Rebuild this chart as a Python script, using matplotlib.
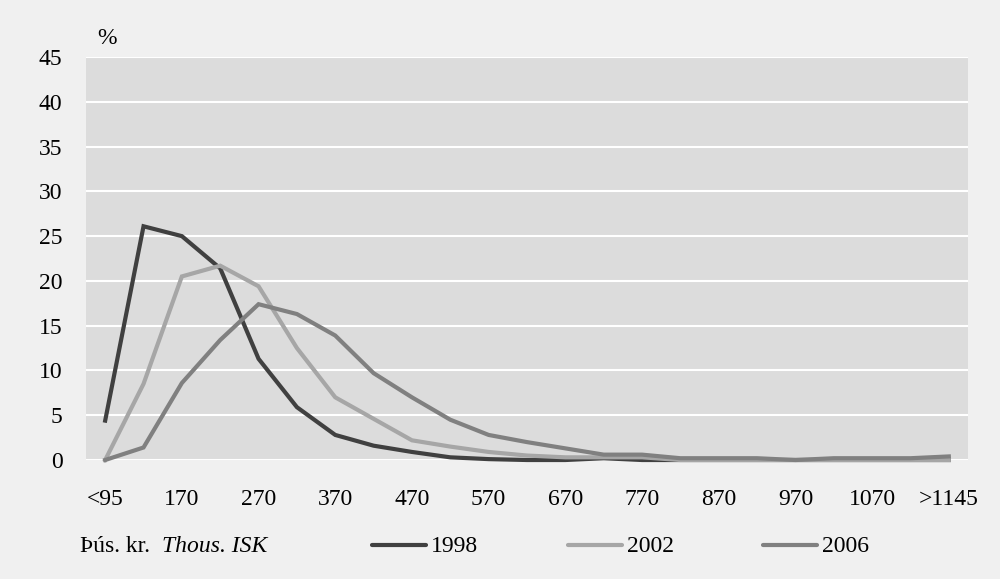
import matplotlib
matplotlib.use("Agg")
import matplotlib.pyplot as plt
from matplotlib.lines import Line2D

categories = ["<95", "120", "170", "220", "270", "320", "370", "420", "470", "520",
              "570", "620", "670", "720", "770", "820", "870", "920", "970", "1020",
              "1070", "1120", ">1145"]
y1998 = [4.4, 26.1, 25.0, 21.4, 11.3, 5.9, 2.8, 1.6, 0.9, 0.3, 0.1, 0.0, 0.0, 0.2,
         0.0, 0.0, 0.0, 0.0, 0.0, 0.0, 0.0, 0.0, 0.0]
y2002 = [0.0, 8.5, 20.5, 21.7, 19.4, 12.5, 7.0, 4.6, 2.2, 1.5, 0.9, 0.5, 0.3, 0.3,
         0.3, 0.0, 0.0, 0.0, 0.0, 0.0, 0.0, 0.0, 0.0]
y2006 = [0.0, 1.4, 8.6, 13.4, 17.4, 16.3, 13.9, 9.7, 7.0, 4.5, 2.8, 2.0, 1.3, 0.6,
         0.6, 0.2, 0.2, 0.2, 0.0, 0.2, 0.2, 0.2, 0.4]
series_names = ["1998", "2002", "2006"]
yticks = [0, 5, 10, 15, 20, 25, 30, 35, 40, 45]

colors = ["#404040", "#a6a6a6", "#808080"]
FONT = "Liberation Serif"
FS = 17

fig = plt.figure(figsize=(10, 5.79), dpi=100, facecolor="#f0f0f0")
ax = fig.add_axes([0.086, 0.2055, 0.882, 0.696])
ax.set_facecolor("#dcdcdc")

x = list(range(len(categories)))
for ys, c in zip([y1998, y2002, y2006], colors):
    ax.plot(x, ys, color=c, lw=3, solid_joinstyle="miter", zorder=3, clip_on=False)

ax.set_xlim(-0.5, len(categories) - 0.5)
ax.set_ylim(0, 45)
ax.set_yticks(yticks)
ax.set_yticklabels([str(v) for v in yticks], fontfamily=FONT, fontsize=FS)
ax.set_xticks(x)
ax.set_xticklabels([c if i % 2 == 0 else "" for i, c in enumerate(categories)],
                   fontfamily=FONT, fontsize=FS)
ax.tick_params(axis="both", length=0)
ax.tick_params(axis="y", pad=17)
ax.tick_params(axis="x", pad=21)
ax.grid(axis="y", color="white", lw=1.5, zorder=1)
ax.grid(axis="x", visible=False)
for s in ax.spines.values():
    s.set_visible(False)

fig.text(0.097, 0.934, "%", fontfamily=FONT, fontsize=FS, va="center", ha="left")

# legend row
ly = 1 - 547 / 579
fig.text(0.080, ly, "Þús. kr.", fontfamily=FONT, fontsize=FS, va="center", ha="left")
fig.text(0.162, ly, "Thous. ISK", fontfamily=FONT, fontsize=FS, style="italic",
         va="center", ha="left")
starts = [0.372, 0.568, 0.763]
for name, c, sx in zip(series_names, colors, starts):
    fig.add_artist(Line2D([sx, sx + 0.054], [ly + 0.003, ly + 0.003], color=c, lw=3,
                          transform=fig.transFigure, solid_capstyle="round"))
    fig.text(sx + 0.059, ly, name, fontfamily=FONT, fontsize=FS, va="center", ha="left")

fig.savefig("out.png", dpi=100, facecolor=fig.get_facecolor())
